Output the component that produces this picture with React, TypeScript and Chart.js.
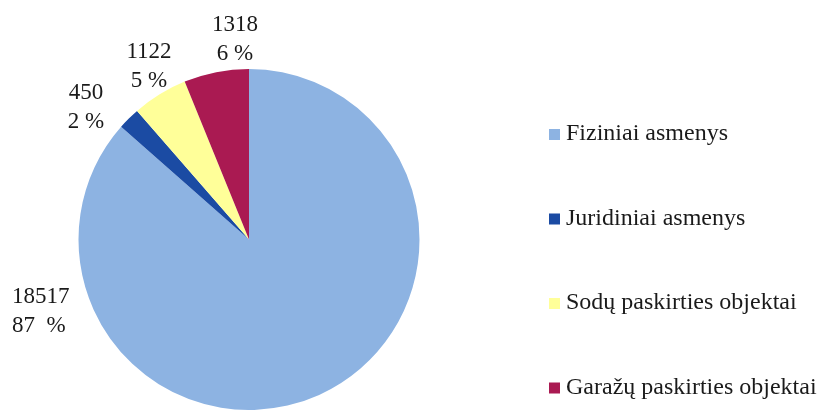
import React, { useEffect, useRef } from "react";
import { Chart, registerables } from "chart.js";

Chart.register(...registerables);

const categories = [
  "Fiziniai asmenys",
  "Juridiniai asmenys",
  "Sodų paskirties objektai",
  "Garažų paskirties objektai",
];
const values = [18517, 450, 1122, 1318];
const percentLabels = ["87  %", "2 %", "5 %", "6 %"];
const colors = ["#8DB3E2", "#1B4BA3", "#FFFF99", "#AA1A52"];

const FONT = '23px "Liberation Serif", "Times New Roman", serif';
const LEGEND_FONT = '24px "Liberation Serif", "Times New Roman", serif';
const TEXT_COLOR = "#1a1a1a";

// label placement: [x, y of first line, align]
const labelLayout: [number, number, CanvasTextAlign][] = [
  [12, 297, "left"],
  [86, 93, "center"],
  [149, 52, "center"],
  [235, 25, "center"],
];

const customPlugin = {
  id: "customDraw",
  afterDraw(chart: any) {
    const ctx = chart.ctx as CanvasRenderingContext2D;
    const ds = chart.data.datasets[0];
    ctx.save();
    ctx.font = FONT;
    ctx.fillStyle = TEXT_COLOR;
    ctx.textBaseline = "middle";
    // data labels
    ds.data.forEach((v: number, i: number) => {
      const [x, y, align] = labelLayout[i];
      ctx.textAlign = align;
      ctx.fillStyle = TEXT_COLOR;
      ctx.fillText(String(v), x, y);
      ctx.fillText(percentLabels[i], x, y + 29);
    });
    // legend
    ctx.font = LEGEND_FONT;
    const startY = 134;
    const step = 84.5;
    chart.data.labels.forEach((lab: string, i: number) => {
      const y = startY + i * step;
      ctx.fillStyle = ds.backgroundColor[i];
      ctx.fillRect(549, y - 5, 11, 11);
      ctx.fillStyle = TEXT_COLOR;
      ctx.textAlign = "left";
      ctx.fillText(lab, 566, y);
    });
    ctx.restore();
  },
};

export default function App() {
  const ref = useRef<HTMLCanvasElement | null>(null);
  useEffect(() => {
    if (!ref.current) return;
    const chart = new Chart(ref.current, {
      type: "pie",
      data: {
        labels: categories,
        datasets: [
          {
            data: values,
            backgroundColor: colors,
            borderWidth: 0,
          },
        ],
      },
      options: {
        responsive: false,
        animation: false,
        devicePixelRatio: 1,
        layout: { padding: { left: 78, right: 399, top: 69, bottom: 0 } },
        plugins: {
          legend: { display: false },
          tooltip: { enabled: false },
        },
      },
      plugins: [customPlugin],
    });
    return () => chart.destroy();
  }, []);
  return (
    <div style={{ position: "fixed", left: 0, top: 0, width: 819, height: 410, background: "#fff" }}>
      <canvas ref={ref} width={819} height={410} />
    </div>
  );
}
